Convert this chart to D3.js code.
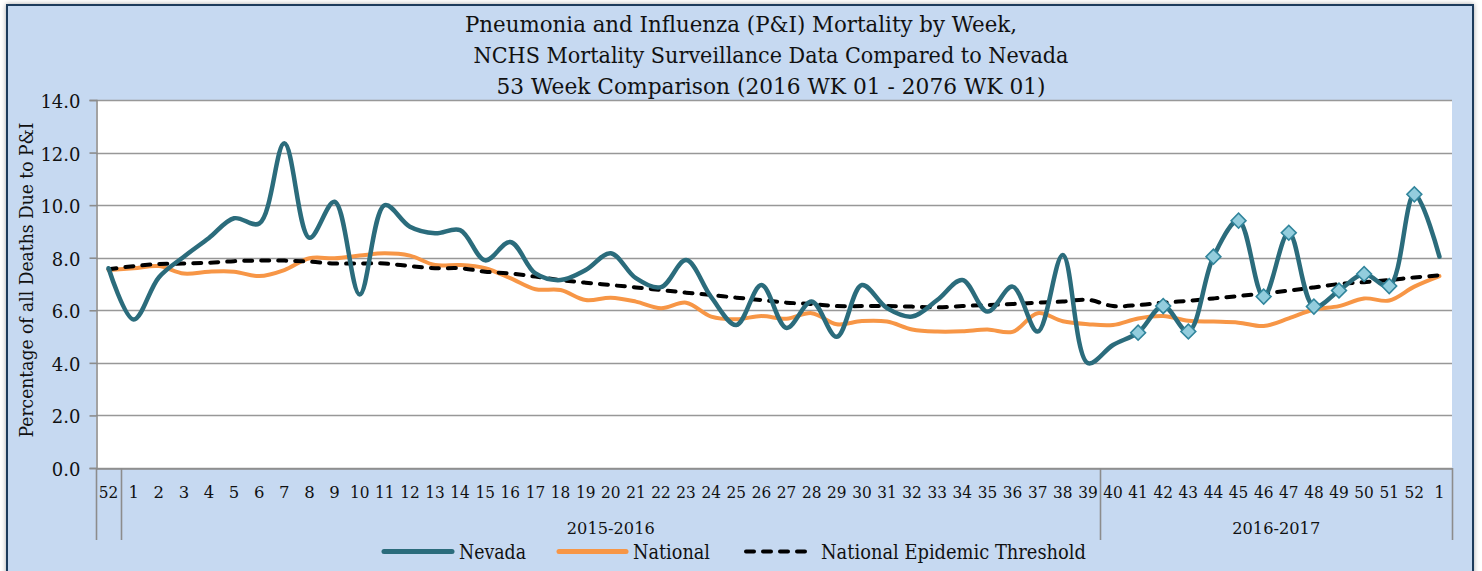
<!DOCTYPE html>
<html><head><meta charset="utf-8">
<script src="https://cdn.jsdelivr.net/npm/d3@7"></script>
<style>html,body{margin:0;padding:0;background:#fff;overflow:hidden} svg{display:block}</style>
</head><body>
<svg id="chart" width="1482" height="571"></svg>
<script>
// ---------- data ----------
const titleLines = [
  "Pneumonia and Influenza (P&I) Mortality by Week,",
  "NCHS Mortality Surveillance Data Compared to Nevada",
  "53 Week Comparison (2016 WK 01 - 2076 WK 01)"
];
const yAxisTitle = "Percentage of all Deaths Due to P&I";
const weekLabels = ["52","1","2","3","4","5","6","7","8","9","10","11","12","13","14","15","16","17","18","19","20",
  "21","22","23","24","25","26","27","28","29","30","31","32","33","34","35","36","37","38","39",
  "40","41","42","43","44","45","46","47","48","49","50","51","52","1"];
const seasonLabels = ["", "2015-2016", "2016-2017"];
const seasonWeekCounts = [1, 39, 14];
const yTicks = [0, 2, 4, 6, 8, 10, 12, 14];
const seriesNames = ["Nevada", "National", "National Epidemic Threshold"];

const nevada = [7.6, 5.65, 7.25, 8.04, 8.75, 9.5, 9.3, 12.35, 8.76, 10.13, 6.6, 10.0, 9.18, 8.93, 9.05, 7.9, 8.6, 7.4,
  7.15, 7.53, 8.17, 7.22, 6.88, 7.91, 6.5, 5.44, 6.96, 5.33, 6.33, 4.99, 6.96, 6.08, 5.76, 6.39, 7.15, 5.95, 6.9,
  5.19, 8.1, 3.99, 4.68, 5.15, 6.16, 5.19, 8.04, 9.41, 6.52, 8.95, 6.14, 6.75, 7.38, 6.92, 10.41, 8.04];
const national = [7.53, 7.6, 7.68, 7.4, 7.47, 7.47, 7.3, 7.53, 7.98, 7.98, 8.08, 8.17, 8.08, 7.72, 7.72, 7.6, 7.22,
  6.8, 6.77, 6.39, 6.48, 6.33, 6.08, 6.29, 5.76, 5.66, 5.78, 5.68, 5.89, 5.47, 5.59, 5.57, 5.27, 5.19, 5.2, 5.27,
  5.18, 5.89, 5.58, 5.47, 5.44, 5.69, 5.78, 5.6, 5.57, 5.53, 5.4, 5.69, 6.03, 6.16, 6.45, 6.37, 6.9, 7.3];
const threshold = [7.56, 7.68, 7.76, 7.78, 7.81, 7.87, 7.89, 7.89, 7.85, 7.78, 7.78, 7.78, 7.68, 7.6, 7.6, 7.47, 7.4,
  7.28, 7.15, 7.05, 6.96, 6.87, 6.77, 6.67, 6.58, 6.48, 6.39, 6.29, 6.24, 6.16, 6.16, 6.16, 6.14, 6.11, 6.16, 6.2,
  6.24, 6.29, 6.33, 6.4, 6.16, 6.2, 6.29, 6.36, 6.45, 6.54, 6.64, 6.75, 6.87, 7.0, 7.07, 7.15, 7.25, 7.33];
// Nevada points shown with markers: weeks 41-52 of the 2016-2017 season
const markedWeeks = ["41","42","43","44","45","46","47","48","49","50","51","52"];
const markedSeason = "2016-2017";

// ---------- styles ----------
const C = {
  bg: "#c6d9f1", border: "#1d3a5c", grid: "#989898", axis: "#8c8c8c",
  nevada: "#2b6c7c", national: "#f79646", thresh: "#000000",
  markFill: "#93cddd", markStroke: "#31859c", text: "#111"
};
const SERIF = "'DejaVu Serif', 'Liberation Serif', serif";

const svg = d3.select("#chart");
const defs = svg.append("defs");
const f = defs.append("filter").attr("id","sh").attr("x","-5%").attr("y","-5%").attr("width","110%").attr("height","110%");
f.append("feDropShadow").attr("dx",0).attr("dy",0).attr("stdDeviation",2.5).attr("flood-color","#000").attr("flood-opacity",0.35);

svg.append("rect").attr("x",7).attr("y",5).attr("width",1466).attr("height",620)
  .attr("fill",C.bg).attr("stroke",C.border).attr("stroke-width",2).attr("filter","url(#sh)");

const L = 96, R = 1452, T = 100, B = 468;
svg.append("rect").attr("x",L).attr("y",T).attr("width",R-L).attr("height",B-T).attr("fill","#fff");

const x = d3.scaleBand().domain(d3.range(weekLabels.length)).range([L, R]);
const cx = i => x(i) + x.bandwidth()/2;
const y = d3.scaleLinear().domain([0, 14]).range([B, T]);

// title
svg.append("g").selectAll("text").data(titleLines).join("text")
  .attr("x", (d,i) => i === 0 ? 741 : 771)
  .attr("y", (d,i) => 32 + i*31)
  .attr("text-anchor","middle")
  .attr("font-family", SERIF).attr("font-size", 22).attr("fill", C.text)
  .attr("textLength", (d,i) => [552, 595, 549][i]).attr("lengthAdjust","spacingAndGlyphs")
  .text(d => d);

// grid
svg.append("g").selectAll("line").data(yTicks).join("line")
  .attr("x1", L).attr("x2", R).attr("y1", d => Math.round(y(d))+0.5).attr("y2", d => Math.round(y(d))+0.5)
  .attr("stroke", C.grid).attr("stroke-width", 1.6);

// y axis
const yAxis = svg.append("g").attr("transform", `translate(${L+0.5},0)`)
  .call(d3.axisLeft(y).tickValues(yTicks).tickFormat(d3.format(".1f")).tickSize(7).tickPadding(9));
yAxis.select(".domain").attr("stroke", C.axis).attr("stroke-width", 1.6);
yAxis.selectAll(".tick line").attr("stroke", C.axis).attr("stroke-width", 1.6);
yAxis.selectAll(".tick text").attr("font-family", SERIF).attr("font-size", 18).attr("fill", C.text)
  .attr("dy","0.42em");

svg.append("text").attr("transform", "translate(33,280) rotate(-90)")
  .attr("text-anchor","middle").attr("font-family", SERIF).attr("font-size", 18.5).attr("fill", C.text)
  .attr("textLength", 315).attr("lengthAdjust","spacingAndGlyphs").text(yAxisTitle);

// x axis
const xAxis = svg.append("g").attr("transform", `translate(0,${B+0.5})`)
  .call(d3.axisBottom(x).tickFormat(i => weekLabels[i]).tickSize(0).tickPadding(18));
xAxis.select(".domain").attr("stroke", C.axis).attr("stroke-width", 1.6);
xAxis.selectAll(".tick text").attr("font-family", SERIF).attr("font-size", 16.5).attr("fill", C.text)
  .each(function(){ const t = d3.select(this); if (t.text().length > 1) t.attr("textLength", 19.5).attr("lengthAdjust","spacingAndGlyphs"); });

// season groups
let start = 0;
const seasons = seasonLabels.map((lab, k) => { const s = {label: lab, a: start, b: start + seasonWeekCounts[k]}; start = s.b; return s; });
const bounds = [x(0)].concat(seasons.map(s => s.b >= weekLabels.length ? R : x(s.b)));
svg.append("g").selectAll("line").data(bounds).join("line")
  .attr("x1", d => Math.round(d)+0.5).attr("x2", d => Math.round(d)+0.5).attr("y1", B).attr("y2", 540)
  .attr("stroke", C.axis).attr("stroke-width", 1.6);
svg.append("g").selectAll("text").data(seasons).join("text")
  .attr("x", s => (x(s.a) + (s.b >= weekLabels.length ? R : x(s.b)))/2).attr("y", 534)
  .attr("text-anchor","middle").attr("font-family", SERIF).attr("font-size", 17).attr("fill", C.text)
  .attr("textLength", s => s.label ? 88 : null).attr("lengthAdjust","spacingAndGlyphs")
  .text(s => s.label);

// series
const line = d3.line().x((d,i) => cx(i)).y(d => y(d)).curve(d3.curveCatmullRom.alpha(0.5));
svg.append("path").attr("d", line(national)).attr("fill","none").attr("stroke", C.national)
  .attr("stroke-width", 4).attr("stroke-linejoin","round").attr("stroke-linecap","round");
svg.append("path").attr("d", line(threshold)).attr("fill","none").attr("stroke", C.thresh)
  .attr("stroke-width", 4).attr("stroke-dasharray","8,9").attr("stroke-linecap","round");
svg.append("path").attr("d", line(nevada)).attr("fill","none").attr("stroke", C.nevada)
  .attr("stroke-width", 4.5).attr("stroke-linejoin","round").attr("stroke-linecap","round");

const seasonOf = i => seasons.find(s => i >= s.a && i < s.b).label;
const marked = nevada.map((v,i) => ({v, i})).filter(d => seasonOf(d.i) === markedSeason && markedWeeks.includes(weekLabels[d.i]));
svg.append("g").selectAll("path").data(marked).join("path")
  .attr("d", d3.symbol(d3.symbolSquare, 110)())
  .attr("transform", d => `translate(${cx(d.i)},${y(d.v)}) rotate(45)`)
  .attr("fill", C.markFill).attr("stroke", C.markStroke).attr("stroke-width", 1.6);

// legend
const lg = svg.append("g");
const legendItems = [
  {name: seriesNames[0], x0: 384, x1: 452, tx: 459, tw: 67, color: C.nevada, dash: null},
  {name: seriesNames[1], x0: 559, x1: 626, tx: 633, tw: 77, color: C.national, dash: null},
  {name: seriesNames[2], x0: 746, x1: 814, tx: 821, tw: 265, color: C.thresh, dash: "8,9"}
];
legendItems.forEach(it => {
  lg.append("line").attr("x1", it.x0).attr("x2", it.x1).attr("y1", 551.5).attr("y2", 551.5)
    .attr("stroke", it.color).attr("stroke-width", it.dash ? 4 : 5).attr("stroke-linecap","round")
    .attr("stroke-dasharray", it.dash);
  lg.append("text").attr("x", it.tx).attr("y", 558.5).attr("font-family", SERIF).attr("font-size", 20)
    .attr("fill", C.text).attr("textLength", it.tw).attr("lengthAdjust","spacingAndGlyphs").text(it.name);
});
</script>
</body></html>
